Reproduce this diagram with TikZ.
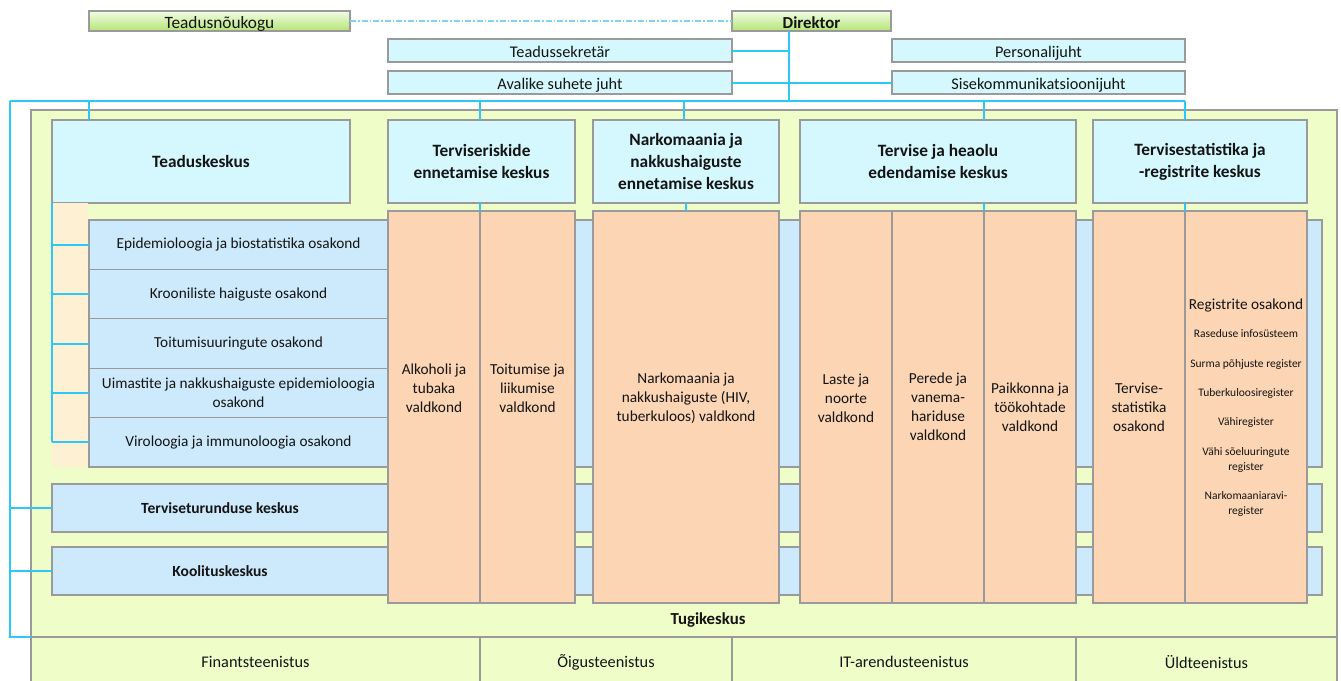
\documentclass[tikz,border=0pt]{standalone}
\usepackage{fontspec}
\setmainfont{Carlito}
\definecolor{edge}{HTML}{9A9A9A}
\definecolor{txt}{HTML}{141414}
\definecolor{cyanbox}{HTML}{D4F8FD}
\definecolor{bluerow}{HTML}{CCEAFB}
\definecolor{orangebox}{HTML}{FBD5B4}
\definecolor{tugi}{HTML}{EFFDC8}
\definecolor{cream}{HTML}{FEF0D2}
\definecolor{linkblue}{HTML}{2EC8F8}
\definecolor{dashblue}{HTML}{7FD3F5}
\definecolor{grtop}{HTML}{F2FCE6}
\definecolor{grbot}{HTML}{B4E474}

\begin{document}
\begin{tikzpicture}[
    x=1pt, y=-1pt,
    every node/.style={inner sep=0pt, outer sep=0pt, text=txt, align=center,
                       font=\fontsize{15.3}{19}\selectfont},
    box/.style={draw=edge, line width=1.1pt, rectangle},
    topbox/.style={box, top color=grtop, bottom color=grbot, text height=14pt, text depth=0pt,
                   font=\fontsize{17.3}{20}\selectfont},
    staff/.style={box, fill=cyanbox, text height=14.5pt, text depth=0pt,
                  font=\fontsize{16.3}{20}\selectfont},
    centre/.style={box, fill=cyanbox, font=\bfseries\fontsize{17.3}{22}\selectfont},
    dept/.style={box, fill=bluerow},
    field/.style={box, fill=orangebox},
    service/.style={box, fill=tugi, font=\fontsize{16.3}{20}\selectfont},
    bold/.style={font=\bfseries\fontsize{15.5}{19}\selectfont},
    small/.style={font=\fontsize{11.5}{15}\selectfont},
    link/.style={draw=linkblue, line width=2pt},
    advice/.style={draw=dashblue, line width=1.2pt, dash pattern=on 6pt off 2pt on 1.5pt off 2pt},
  ]
  \useasboundingbox (0,0) rectangle (1341,680);

  % Tugikeskus background and its services
  \node[box, fill=tugi, anchor=north west, minimum width=1306, minimum height=575] (tug) at (31,110) {};
  \node[font=\bfseries\fontsize{16.8}{20}\selectfont] (tuglbl) at (708,620) {Tugikeskus};
  \node[service, anchor=north west, minimum width=449, minimum height=50] (fin) at (31,637) {Finantsteenistus};
  \node[service, anchor=north west, minimum width=252, minimum height=50] (oig) at (480,637) {Õigusteenistus};
  \node[service, anchor=north west, minimum width=344, minimum height=50] (ita) at (732,637) {IT-arendusteenistus};
  \node[service, anchor=north west, minimum width=261, minimum height=50] (uld) at (1076,637) {Üldteenistus};

  % top management
  \node[topbox, minimum width=261, minimum height=20] (tn) at (219.5,21) {Teadusnõukogu};
  \node[topbox, minimum width=159, minimum height=20, font=\bfseries\fontsize{16.8}{20}\selectfont] (dir) at (811.5,21) {Direktor};
  \node[staff, minimum width=344, minimum height=23] (tsek) at (560,50.5) {Teadussekretär};
  \node[staff, minimum width=344, minimum height=23] (ash) at (560,82.5) {Avalike suhete juht};
  \node[staff, minimum width=293, minimum height=23] (pers) at (1038.5,50.5) {Personalijuht};
  \node[staff, minimum width=293, minimum height=23] (skj) at (1038.5,82.5) {Sisekommunikatsioonijuht};

  % centres
  \node[centre, minimum width=298, minimum height=83] (tk) at (201,161.5) {Teaduskeskus};
  \node[centre, minimum width=187, minimum height=83] (trk) at (481.5,161.5) {Terviseriskide\\ennetamise keskus};
  \node[centre, minimum width=186, minimum height=83] (nnk) at (686,161.5) {Narkomaania ja\\nakkushaiguste\\ennetamise keskus};
  \node[centre, minimum width=276, minimum height=83] (thk) at (938,161.5) {Tervise ja heaolu\\edendamise keskus};
  \node[centre, minimum width=214, minimum height=83] (tsk) at (1200,161.5) {Tervisestatistika ja\\-registrite keskus};

  % Teaduskeskus departments and the long centres
  \fill[cream] (52,203) rectangle (88,467);
  \path[dept] (89,220) rectangle (1322,467);
  \foreach \c/\lbl [count=\i] in {244.7/{Epidemioloogia ja biostatistika osakond},
      294.1/{Krooniliste haiguste osakond},
      343.5/{Toitumisuuringute osakond},
      392.9/{Uimastite ja nakkushaiguste epidemioloogia\\osakond},
      442.3/{Viroloogia ja immunoloogia osakond}}
    \node[dept, minimum width=299, minimum height=49.4] (row\i) at (238.5,\c) {\lbl};
  \node[dept, anchor=north west, minimum width=1270, minimum height=48] (ttk) at (52,484) {};
  \node[bold] (ttklbl) at (220,508) {Terviseturunduse keskus};
  \node[dept, anchor=north west, minimum width=1270, minimum height=48] (kk) at (52,547) {};
  \node[bold] (kklbl) at (220,571) {Koolituskeskus};

  % valdkonnad and osakonnad
  \node[field, minimum width=92, minimum height=392] (alk) at (434,407) {};
  \node[field, minimum width=95, minimum height=392] (toi) at (527.5,407) {};
  \node[field, minimum width=186, minimum height=392] (nark) at (686,407) {};
  \node[field, minimum width=92, minimum height=392] (las) at (846,407) {};
  \node[field, minimum width=92, minimum height=392] (per) at (938,407) {};
  \node[field, minimum width=92, minimum height=392] (paik) at (1030,407) {};
  \node[field, minimum width=92, minimum height=392] (tst) at (1139,407) {};
  \node[field, minimum width=122, minimum height=392] (reg) at (1246,407) {};
  \node (alklbl) at (434,388) {Alkoholi ja\\tubaka\\valdkond};
  \node (toilbl) at (527.5,388) {Toitumise ja\\liikumise\\valdkond};
  \node (narklbl) at (686,398) {Narkomaania ja\\nakkushaiguste (HIV,\\tuberkuloos) valdkond};
  \node (laslbl) at (846,398) {Laste ja\\noorte\\valdkond};
  \node (perlbl) at (938,407) {Perede ja\\vanema-\\hariduse\\valdkond};
  \node (paiklbl) at (1030,407) {Paikkonna ja\\töökohtade\\valdkond};
  \node (tstlbl) at (1139,407) {Tervise-\\statistika\\osakond};
  \node (reglbl) at (1246,305) {Registrite osakond};
  \foreach \c/\lbl [count=\i] in {334/{Raseduse infosüsteem}, 364/{Surma põhjuste register},
      393/{Tuberkuloosiregister}, 422/{Vähiregister},
      459.5/{Vähi sõeluuringute\\register}, 503.5/{Narkomaaniaravi-\\register}}
    \node[small] (regitem\i) at (1246,\c) {\lbl};

  % connectors
  \coordinate (bus) at (10,101);
  \coordinate (dirdrop) at (789,101);
  \draw[advice] (tn.east) -- (dir.west);
  \draw[link] (dirdrop |- dir.south) -- (dirdrop);
  \draw[link] (tsek.east) -- (tsek.east -| dirdrop);
  \draw[link] (ash.east) -- (skj.west);
  \draw[link] (bus) -- (bus -| tst.north east);
  \foreach \x/\n in {89/tk, 480/trk, 684/nnk, 984/thk, 1185/tsk}
    \draw[link] (\x,101) -- (\x,101 |- \n.north);
  \draw[link] (alk.north east |- trk.south) -- (alk.north east);
  \draw[link] (nnk.south) -- (nark.north);
  \draw[link] (per.north east |- thk.south) -- (per.north east);
  \draw[link] (tst.north east |- tsk.south) -- (tst.north east);
  \draw[link] (tk.south west) -- (tk.south west |- row5.west);
  \foreach \i in {1,...,5}
    \draw[link] (tk.south west |- row\i.west) -- (row\i.west);
  \draw[link] (bus) |- (fin.north west);
  \draw[link] (bus |- ttk.west) -- (ttk.west);
  \draw[link] (bus |- kk.west) -- (kk.west);
\end{tikzpicture}
\end{document}
